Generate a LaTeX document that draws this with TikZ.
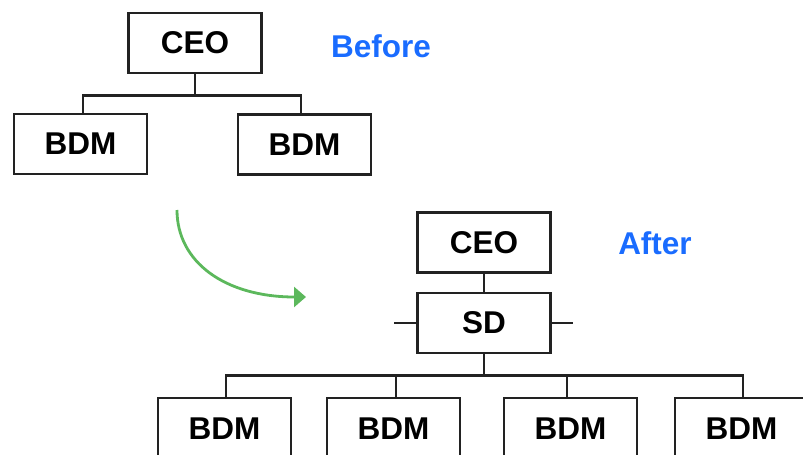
\documentclass[tikz,border=0pt]{standalone}
\usepackage{fontspec}
\setmainfont{Liberation Sans}
\usetikzlibrary{arrows.meta}
\definecolor{boxline}{HTML}{222222}
\definecolor{titleblue}{HTML}{1A6CFF}
\definecolor{arrowgreen}{HTML}{5CB85C}
\begin{document}
\begin{tikzpicture}[x=1pt,y=-1pt,
  orgbox/.style={draw=boxline, line width=2.9pt, fill=white, minimum width=133pt, minimum height=60pt, inner sep=0pt, font=\fontsize{31.5}{34}\selectfont\bfseries, text=black},
  link/.style={draw=boxline, line width=2.6pt},
  tag/.style={font=\fontsize{31.5}{34}\selectfont\bfseries, text=titleblue, inner sep=0pt}]
\useasboundingbox (0,0) rectangle (803,455);
\clip (0,0) rectangle (803,455);
% Before
\node[orgbox] (ceoA) at (195,43) {CEO};
\node[orgbox] (bdmA) at (80.5,144) {BDM};
\node[orgbox] (bdmB) at (304.5,144.5) {BDM};
\node[tag] (before) at (381,46) {Before};
\draw[link] (ceoA.south) -- ++(0,21) coordinate (barA);
\draw[link] ([xshift=2.5pt]bdmA.north) |- (barA) -| ([xshift=-3.5pt]bdmB.north);
% arrow
\coordinate (arrS) at (177,210);
\coordinate (arrE) at (306,297);
\draw[arrowgreen, line width=2.8pt, -{Triangle[length=12pt,width=20pt]}] (arrS) .. controls (177,262) and (225,297) .. (arrE);
% After
\node[orgbox] (ceoB) at (484,242.5) {CEO};
\node[orgbox] (sd) at (484,323) {SD};
\node[tag] (after) at (655,243) {After};
\draw[link] (ceoB.south) -- (sd.north);
\draw[link] (sd.west) -- ++(-22,0);
\draw[link] (sd.east) -- ++(21,0);
\node[orgbox, minimum height=62pt] (b1) at (224.5,429) {BDM};
\node[orgbox, minimum height=62pt] (b2) at (393.5,429) {BDM};
\node[orgbox, minimum height=62pt] (b3) at (570.5,429) {BDM};
\node[orgbox, minimum height=62pt] (b4) at (741.5,429) {BDM};
\draw[link] (sd.south) -- ++(0,21) coordinate (barB);
\draw[link] ([xshift=1.5pt]b1.north) |- (barB) -| ([xshift=1.5pt]b4.north);
\draw[link] ([xshift=2.5pt]b2.north) -- ([xshift=2.5pt]b2.north |- barB);
\draw[link] ([xshift=-3.5pt]b3.north) -- ([xshift=-3.5pt]b3.north |- barB);
\end{tikzpicture}
\end{document}
